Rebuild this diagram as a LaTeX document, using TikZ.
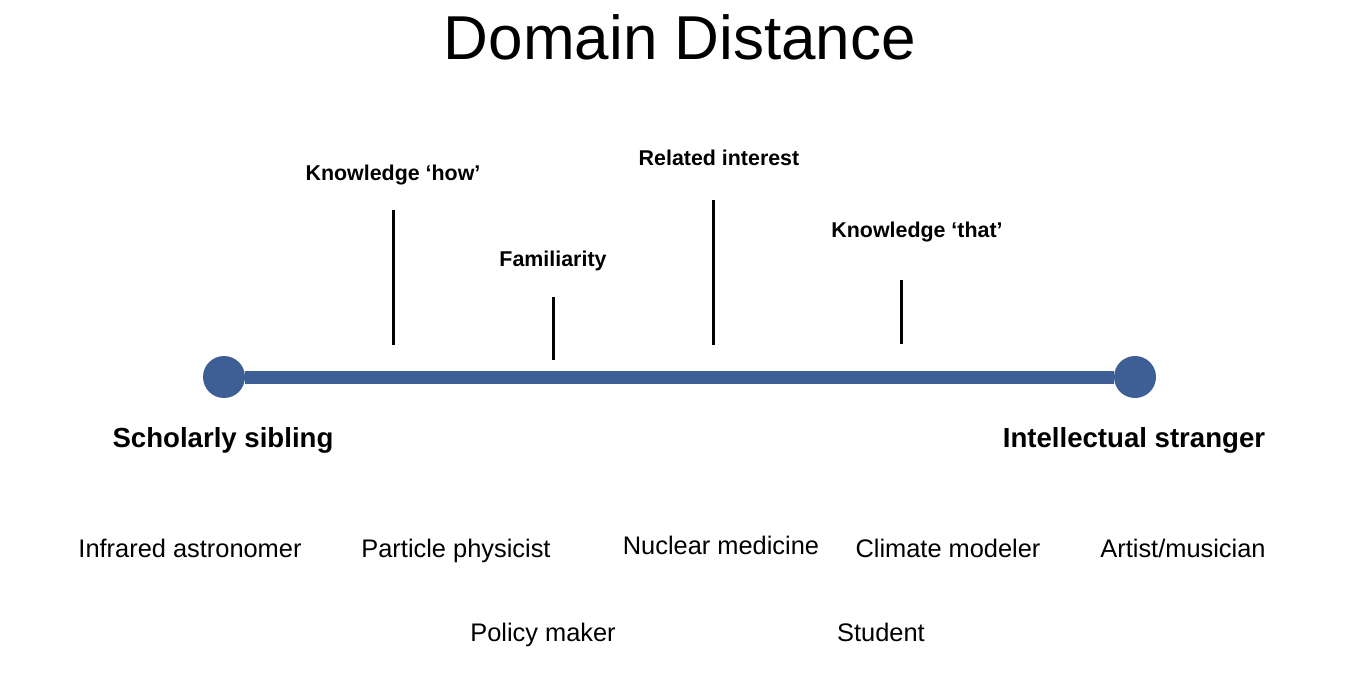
\documentclass[tikz,border=0pt]{standalone}
\usepackage{fontspec}
\setmainfont{Liberation Sans}
\usepackage{xcolor}
\definecolor{axisblue}{RGB}{62,95,149}

\tikzset{
  endpoint/.style={circle,fill=axisblue,inner sep=0pt,minimum size=21pt},
  axisline/.style={axisblue,line width=6.5pt},
  tick/.style={black,line width=1.5pt},
  kindlabel/.style={anchor=base,inner sep=0pt,font=\fontsize{10.7}{12}\selectfont\bfseries},
  endlabel/.style={anchor=base,inner sep=0pt,font=\fontsize{13.8}{16}\selectfont\bfseries},
  person/.style={anchor=base,inner sep=0pt,font=\fontsize{12.7}{15}\selectfont}
}

\begin{document}
\begin{tikzpicture}[x=0.5pt,y=-0.5pt]
      \useasboundingbox (0,0) rectangle (1360,687);

      \node[anchor=base,inner sep=0pt,font=\fontsize{31}{36}\selectfont] (title) at (680,59) {Domain Distance};

      % the scale
      \node[endpoint] (sibling) at (224,377) {};
      \node[endpoint] (stranger) at (1135,377) {};
      \draw[axisline] (sibling) -- (stranger);

      \node[endlabel] (siblinglabel) at (223,447) {Scholarly sibling};
      \node[endlabel] (strangerlabel) at (1134,447) {Intellectual stranger};

      % kinds of knowledge
      \coordinate (howtop) at (393,210);   \coordinate (howbot) at (393,345);
      \coordinate (famtop) at (553,297);   \coordinate (fambot) at (553,360);
      \coordinate (reltop) at (713,200);   \coordinate (relbot) at (713,345);
      \coordinate (thattop) at (901,280);  \coordinate (thatbot) at (901,344);
      \draw[tick] (howtop) -- (howbot);
      \draw[tick] (famtop) -- (fambot);
      \draw[tick] (reltop) -- (relbot);
      \draw[tick] (thattop) -- (thatbot);

      \node[kindlabel] (how) at (393,180) {Knowledge ‘how’};
      \node[kindlabel] (familiarity) at (553,266) {Familiarity};
      \node[kindlabel] (related) at (719,165) {Related interest};
      \node[kindlabel] (that) at (917,237) {Knowledge ‘that’};

      % people along the scale
      \node[person] (astronomer) at (190,557) {Infrared astronomer};
      \node[person] (physicist) at (456,557) {Particle physicist};
      \node[person] (medicine) at (721,554) {Nuclear medicine};
      \node[person] (climate) at (948,557) {Climate modeler};
      \node[person] (artist) at (1183,557) {Artist/musician};
      \node[person] (policy) at (543,641) {Policy maker};
      \node[person] (student) at (881,641) {Student};
    \end{tikzpicture}
\end{document}
